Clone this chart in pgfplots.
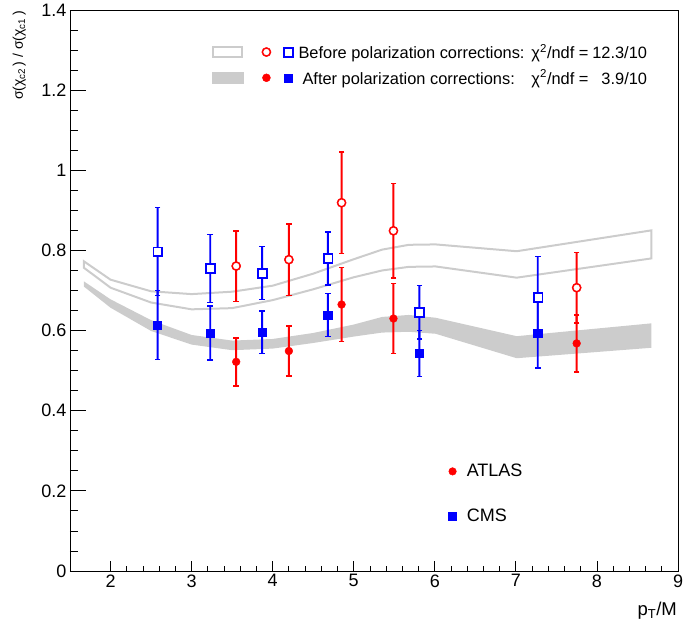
\documentclass[border=0pt]{standalone}
\usepackage{pgfplots}
\pgfplotsset{compat=1.18}
\usepackage{pgfplotstable}
\usepackage{fontspec}
\setmainfont{Liberation Sans}
\definecolor{bandgray}{RGB}{204,204,204}
\definecolor{myred}{RGB}{255,0,0}
\definecolor{myblue}{RGB}{0,0,255}

% central values
\pgfplotstableread{
x y
2.58 0.797
3.23 0.755
3.87 0.744
4.68 0.780
5.81 0.646
7.27 0.684
}\cmsbefore
\pgfplotstableread{
x y
2.58 0.614
3.23 0.594
3.87 0.596
4.68 0.639
5.81 0.543
7.27 0.593
}\cmsafter
\pgfplotstableread{
x y
3.55 0.761
4.20 0.777
4.85 0.919
5.49 0.849
7.75 0.707
}\atlasbefore
\pgfplotstableread{
x y
3.55 0.522
4.20 0.549
4.85 0.665
5.49 0.630
7.75 0.568
}\atlasafter

\pgfplotsset{
  errfill/.style={forget plot, fill=#1, draw=none, unbounded coords=jump},
  errcap/.style={forget plot, only marks, color=#1, mark=-, mark size=2.8bp, mark options={solid, color=#1, line width=1.5bp}},
}

\begin{document}
\begin{tikzpicture}
\useasboundingbox (-70bp,-59bp) rectangle (615bp,571bp);
\begin{axis}[
  at={(0,0)}, anchor=south west,
  scale only axis, width=608bp, height=561bp,
  xmin=1.5, xmax=9, ymin=0, ymax=1.4,
  xtick={2,3,4,5,6,7,8,9}, minor x tick num=4,
  ytick=\empty,
  xtick pos=left,
  tick align=inside,
  major tick length=10bp, minor tick length=5bp,
  tick style={black, line width=0.8bp},
  axis line style={line width=0.8bp},
  tick label style={font=\fontsize{18bp}{21bp}\selectfont},
  /pgf/number format/assume math mode=true,
  xlabel={p\textsubscript{T}/M},
  xlabel style={at={(rel axis cs:1,0)}, anchor=north east, yshift=-30bp, font=\fontsize{18.5bp}{21bp}\selectfont, inner sep=1bp},
  legend style={draw=none, fill=none, inner sep=0pt, at={(rel axis cs:0.2336,0.943)}, anchor=north west,
    font=\fontsize{16.4bp}{19bp}\selectfont, row sep=6bp},
  legend cell align=left,
]
% bands
\addplot[draw=none, fill=bandgray, forget plot] coordinates {
(1.67,0.723) (2.0,0.678) (2.5,0.626) (3.0,0.589) (3.5,0.575) (4.0,0.579) (4.5,0.594) (5.0,0.615) (5.35,0.634) (5.68,0.639) (6.01,0.632) (7.01,0.586) (8.67,0.618)
(8.67,0.557) (7.01,0.531) (6.01,0.592) (5.68,0.597) (5.35,0.595) (5.0,0.585) (4.5,0.569) (4.0,0.555) (3.5,0.551) (3.0,0.565) (2.5,0.599) (2.0,0.657) (1.67,0.710)
} -- cycle;
\addplot[bandgray, line width=2bp, forget plot] coordinates {
(1.67,0.773) (2.0,0.727) (2.5,0.698) (3.0,0.691) (3.5,0.697) (4.0,0.712) (4.5,0.742) (5.0,0.778) (5.35,0.802) (5.68,0.814) (6.01,0.815) (7.01,0.798) (8.67,0.850)
(8.67,0.780) (7.01,0.732) (6.01,0.760) (5.68,0.759) (5.35,0.750) (5.0,0.733) (4.5,0.703) (4.0,0.676) (3.5,0.656) (3.0,0.653) (2.5,0.670) (2.0,0.707) (1.67,0.757)
} -- cycle;
% error bars: thin filled strips from lower to upper end
\addplot[errfill=myblue] coordinates {
(2.568,0.687) (2.592,0.687) (2.592,0.907) (2.568,0.907) (2.58,nan)
(3.218,0.670) (3.242,0.670) (3.242,0.840) (3.218,0.840) (3.23,nan)
(3.858,0.678) (3.882,0.678) (3.882,0.810) (3.858,0.810) (3.87,nan)
(4.668,0.714) (4.692,0.714) (4.692,0.846) (4.668,0.846) (4.68,nan)
(5.798,0.579) (5.822,0.579) (5.822,0.713) (5.798,0.713) (5.81,nan)
(7.258,0.583) (7.282,0.583) (7.282,0.785) (7.258,0.785)
};
\addplot[errfill=myblue] coordinates {
(2.568,0.528) (2.592,0.528) (2.592,0.700) (2.568,0.700) (2.58,nan)
(3.218,0.527) (3.242,0.527) (3.242,0.661) (3.218,0.661) (3.23,nan)
(3.858,0.543) (3.882,0.543) (3.882,0.649) (3.858,0.649) (3.87,nan)
(4.668,0.585) (4.692,0.585) (4.692,0.693) (4.668,0.693) (4.68,nan)
(5.798,0.486) (5.822,0.486) (5.822,0.600) (5.798,0.600) (5.81,nan)
(7.258,0.506) (7.282,0.506) (7.282,0.680) (7.258,0.680)
};
\addplot[errfill=myred] coordinates {
(3.538,0.673) (3.562,0.673) (3.562,0.849) (3.538,0.849) (3.55,nan)
(4.188,0.688) (4.212,0.688) (4.212,0.866) (4.188,0.866) (4.20,nan)
(4.838,0.792) (4.862,0.792) (4.862,1.046) (4.838,1.046) (4.85,nan)
(5.478,0.731) (5.502,0.731) (5.502,0.967) (5.478,0.967) (5.49,nan)
(7.738,0.619) (7.762,0.619) (7.762,0.795) (7.738,0.795)
};
\addplot[errfill=myred] coordinates {
(3.538,0.462) (3.562,0.462) (3.562,0.582) (3.538,0.582) (3.55,nan)
(4.188,0.487) (4.212,0.487) (4.212,0.611) (4.188,0.611) (4.20,nan)
(4.838,0.573) (4.862,0.573) (4.862,0.757) (4.838,0.757) (4.85,nan)
(5.478,0.543) (5.502,0.543) (5.502,0.717) (5.478,0.717) (5.49,nan)
(7.738,0.497) (7.762,0.497) (7.762,0.639) (7.738,0.639)
};
% caps at the ends of the bars
\addplot[errcap=myblue] coordinates {
(2.58,0.687) (2.58,0.907) (3.23,0.670) (3.23,0.840) (3.87,0.678) (3.87,0.810)
(4.68,0.714) (4.68,0.846) (5.81,0.579) (5.81,0.713) (7.27,0.583) (7.27,0.785)
(2.58,0.528) (2.58,0.700) (3.23,0.527) (3.23,0.661) (3.87,0.543) (3.87,0.649)
(4.68,0.585) (4.68,0.693) (5.81,0.486) (5.81,0.600) (7.27,0.506) (7.27,0.680)
};
\addplot[errcap=myred] coordinates {
(3.55,0.673) (3.55,0.849) (4.20,0.688) (4.20,0.866) (4.85,0.792) (4.85,1.046)
(5.49,0.731) (5.49,0.967) (7.75,0.619) (7.75,0.795)
(3.55,0.462) (3.55,0.582) (4.20,0.487) (4.20,0.611) (4.85,0.573) (4.85,0.757)
(5.49,0.543) (5.49,0.717) (7.75,0.497) (7.75,0.639)
};
% open markers (before): coloured outer mark with white inner mark
\addplot[forget plot, only marks, myblue, mark=square*, mark size=4.85bp, mark options={draw=none, fill=myblue}]
  table[x=x, y=y] {\cmsbefore};
\addplot[forget plot, only marks, white, mark=square*, mark size=3.0bp, mark options={draw=none, fill=white}]
  table[x=x, y=y] {\cmsbefore};
\addplot[forget plot, only marks, myred, mark=*, mark size=4.65bp, mark options={draw=none, fill=myred}]
  table[x=x, y=y] {\atlasbefore};
\addplot[forget plot, only marks, white, mark=*, mark size=2.85bp, mark options={draw=none, fill=white}]
  table[x=x, y=y] {\atlasbefore};
% filled markers (after)
\addplot[forget plot, only marks, myblue, mark=square*, mark size=4.1bp, mark options={draw=none, fill=myblue}]
  table[x=x, y=y] {\cmsafter};
\addplot[forget plot, only marks, myred, mark=*, mark size=3.9bp, mark options={draw=none, fill=myred}]
  table[x=x, y=y] {\atlasafter};
% legend
\addlegendimage{legend image code/.code={
  \draw[bandgray, line width=2bp] (1bp,-5bp) rectangle (30bp,5bp);
  \fill[myred] (54bp,0bp) circle (4.65bp);
  \fill[white] (54bp,0bp) circle (2.85bp);
  \fill[myblue] (71.2bp,-4.85bp) rectangle (80.9bp,4.85bp);
  \fill[white] (73.05bp,-3.0bp) rectangle (79.05bp,3.0bp);
}}
\addlegendentry{\hspace{3bp}\makebox[233bp][l]{Before polarization corrections:}χ\textsuperscript{2}/ndf = \makebox[54bp][r]{12.3/10}}
\addlegendimage{legend image code/.code={
  \fill[bandgray] (0bp,-5.5bp) rectangle (31bp,5.5bp);
  \fill[myred] (54bp,0bp) circle (4bp);
  \fill[myblue] (72bp,-4bp) rectangle (80bp,4bp);
}}
\addlegendentry{\hspace{7bp}\makebox[229bp][l]{After polarization corrections:}χ\textsuperscript{2}/ndf = \makebox[54bp][r]{3.9/10}}
\end{axis}
\begin{axis}[
  at={(0,0)}, anchor=south west,
  scale only axis, width=608bp, height=561bp,
  xmin=1.5, xmax=9, ymin=0, ymax=1.4,
  axis line style={draw=none},
  xtick=\empty,
  ytick={0,0.2,0.4,0.6,0.8,1,1.2,1.4}, minor y tick num=3,
  ytick pos=left,
  tick align=inside,
  major tick length=16bp, minor tick length=8bp,
  tick style={black, line width=0.8bp},
  tick label style={font=\fontsize{18bp}{21bp}\selectfont},
  /pgf/number format/assume math mode=true,
  ylabel={σ(χ\textsubscript{c2}\,) / σ(χ\textsubscript{c1}\,)},
  ylabel style={at={(rel axis cs:-0.0707,1.0)}, anchor=south east, font=\fontsize{14bp}{17bp}\selectfont, inner sep=1bp},
  legend style={draw=none, fill=none, inner sep=0pt, at={(rel axis cs:0.622,0.194)}, anchor=north west,
    font=\fontsize{18bp}{21bp}\selectfont, row sep=27bp},
  legend cell align=left,
]
\addplot[draw=none, forget plot] coordinates {(2,0.5)};
\addlegendimage{legend image code/.code={\fill[myred] (10bp,0bp) circle (3.8bp);}}
\addlegendentry{\hspace{8bp}ATLAS}
\addlegendimage{legend image code/.code={\fill[myblue] (6bp,-4bp) rectangle (14bp,4bp);}}
\addlegendentry{\hspace{8bp}CMS}
\end{axis}
\end{tikzpicture}
\end{document}
